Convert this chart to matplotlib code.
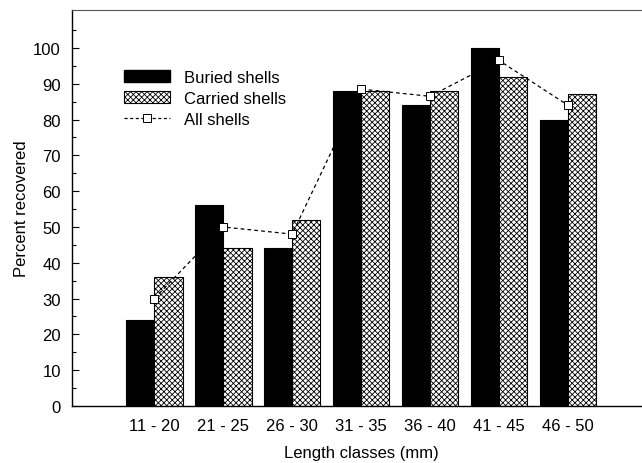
import numpy as np
import matplotlib
matplotlib.use('Agg')
import matplotlib.pyplot as plt
from matplotlib.lines import Line2D
from matplotlib.patches import Patch

plt.rcParams['font.family'] = ['Liberation Sans', 'DejaVu Sans']
plt.rcParams['hatch.linewidth'] = 0.6

classes = ['11 - 20', '21 - 25', '26 - 30', '31 - 35', '36 - 40', '41 - 45', '46 - 50']
buried = [24, 56, 44, 88, 84, 100, 80]
carried = [36, 44, 52, 88, 88, 92, 87]
all_shells = [30, 50, 48, 88.5, 86.5, 96.5, 84]

x = np.arange(len(classes))
w = 0.41
fs = 12

fig = plt.figure(figsize=(6.42, 4.64), dpi=100)
ax = fig.add_axes([72 / 642, 57 / 464, (650 - 72) / 642, 396 / 464])

ax.bar(x - w, buried, w, align='edge', color='black', edgecolor='black', linewidth=0.8, zorder=2)
ax.bar(x, carried, w, align='edge', color='white', edgecolor='black', hatch='xxxxxx', linewidth=0.8, zorder=2)
ax.plot(x, all_shells, color='black', linestyle=(0, (3, 2.5)), linewidth=0.9, zorder=3)
ax.plot(x, all_shells, linestyle='none', marker='s', markersize=6, markerfacecolor='white',
        markeredgecolor='black', markeredgewidth=0.7, zorder=4)

ax.set_xlim(-1.194, 7.19)
ax.set_ylim(0, 110.6)
ax.set_yticks(np.arange(0, 101, 10))
ax.set_yticks(np.arange(5, 110, 5), minor=True)
ax.set_xticks(x)
ax.set_xticklabels(classes)
ax.tick_params(axis='y', which='major', direction='in', length=5, width=0.8, labelsize=fs, pad=8)
ax.tick_params(axis='y', which='minor', direction='in', length=3, width=0.8)
ax.tick_params(axis='x', length=0, labelsize=fs, pad=9)
ax.spines['right'].set_visible(False)
ax.spines['top'].set_color('#555555')
for s in ['left', 'bottom']:
    ax.spines[s].set_linewidth(1.0)

ax.set_xlabel('Length classes (mm)', fontsize=fs, labelpad=8)
ax.set_ylabel('Percent recovered', fontsize=fs, labelpad=3)

handles = [
    Patch(facecolor='black', edgecolor='black'),
    Patch(facecolor='white', edgecolor='black', hatch='xxxxxx', linewidth=0.8),
    Line2D([0], [0], color='black', linestyle=(0, (2.5, 2)), linewidth=0.9, marker='s',
           markersize=6, markerfacecolor='white', markeredgecolor='black', markeredgewidth=0.7),
]
ax.legend(handles, ['Buried shells', 'Carried shells', 'All shells'], frameon=False,
          loc='upper left', bbox_to_anchor=(52 / 578, (396 - 60) / 396), fontsize=fs,
          handlelength=2.75, handleheight=0.7, handletextpad=0.85, labelspacing=0.35,
          borderaxespad=0, borderpad=0)

fig.savefig('out.png', dpi=100)
